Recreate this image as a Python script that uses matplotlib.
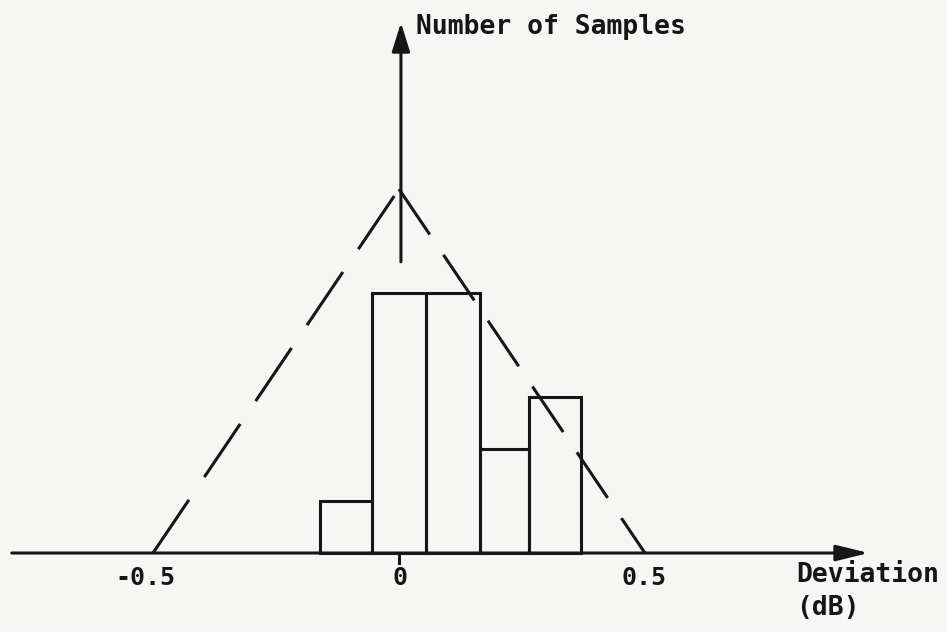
import matplotlib
matplotlib.use("Agg")
import matplotlib.pyplot as plt

# histogram of deviations (dB)
bin_edges = [-0.16, -0.055, 0.055, 0.165, 0.265, 0.37]
counts = [1, 5, 5, 2, 3]

# dashed triangular envelope
tri_x = [-0.5, 0.0, 0.5]
tri_y = [0, 7, 0]

tick_vals = [-0.5, 0.0, 0.5]
tick_labels = ["-0.5", "0", "0.5"]
tick_label_x = [-0.516, 0.002, 0.498]

ink = "#161616"
paper = "#f6f6f4"
font = ["DejaVu Sans Mono"]

fig = plt.figure(figsize=(9.47, 6.32), dpi=100, facecolor=paper)
ax = fig.add_axes([0, 0, 1, 1])
ax.set_facecolor(paper)
ax.set_xlim(-0.811, 1.114)
ax.set_ylim(-1.519, 10.635)
ax.axis("off")

# x axis with arrow
ax.annotate("", xy=(0.955, 0), xytext=(-0.787, 0),
            arrowprops=dict(arrowstyle="-|>,head_length=0.9,head_width=0.22",
                            color=ink, lw=2.2, mutation_scale=22,
                            shrinkA=0, shrinkB=0))
# y axis: drawn only above the bars, as in the original sketch
ax.annotate("", xy=(0.004, 10.2), xytext=(0.004, 5.6),
            arrowprops=dict(arrowstyle="-|>,head_length=0.8,head_width=0.25",
                            color=ink, lw=2.2, mutation_scale=22,
                            shrinkA=0, shrinkB=0))
ax.plot([0, 0], [0, -0.2], color=ink, lw=2.2)

# bars
lefts = bin_edges[:-1]
widths = [b - a for a, b in zip(bin_edges[:-1], bin_edges[1:])]
ax.bar(lefts, counts, width=widths, align="edge", fill=False,
       edgecolor=ink, linewidth=2.2, zorder=3)

# envelope, each side dashed from its own end
left_side, = ax.plot(tri_x[:2], tri_y[:2], color=ink, lw=2.2, zorder=2)
right_side, = ax.plot(tri_x[1:], tri_y[1:], color=ink, lw=2.2, zorder=2)
left_side.set_dashes((21, 9))
right_side.set_dashes((18, 8))

# tick labels
for v, lab in zip(tick_label_x, tick_labels):
    ax.text(v, -0.48, lab, ha="center", va="center", fontsize=18,
            family=font, fontweight="bold", color=ink)

ax.text(0.034, 10.12, "Number of Samples", ha="left", va="center",
        fontsize=19, family=font, fontweight="bold", color=ink)
ax.text(0.808, -0.42, "Deviation", ha="left", va="center",
        fontsize=19, family=font, fontweight="bold", color=ink)
ax.text(0.808, -1.06, "(dB)", ha="left", va="center",
        fontsize=19, family=font, fontweight="bold", color=ink)

fig.savefig("out.png", dpi=100, facecolor=paper)
